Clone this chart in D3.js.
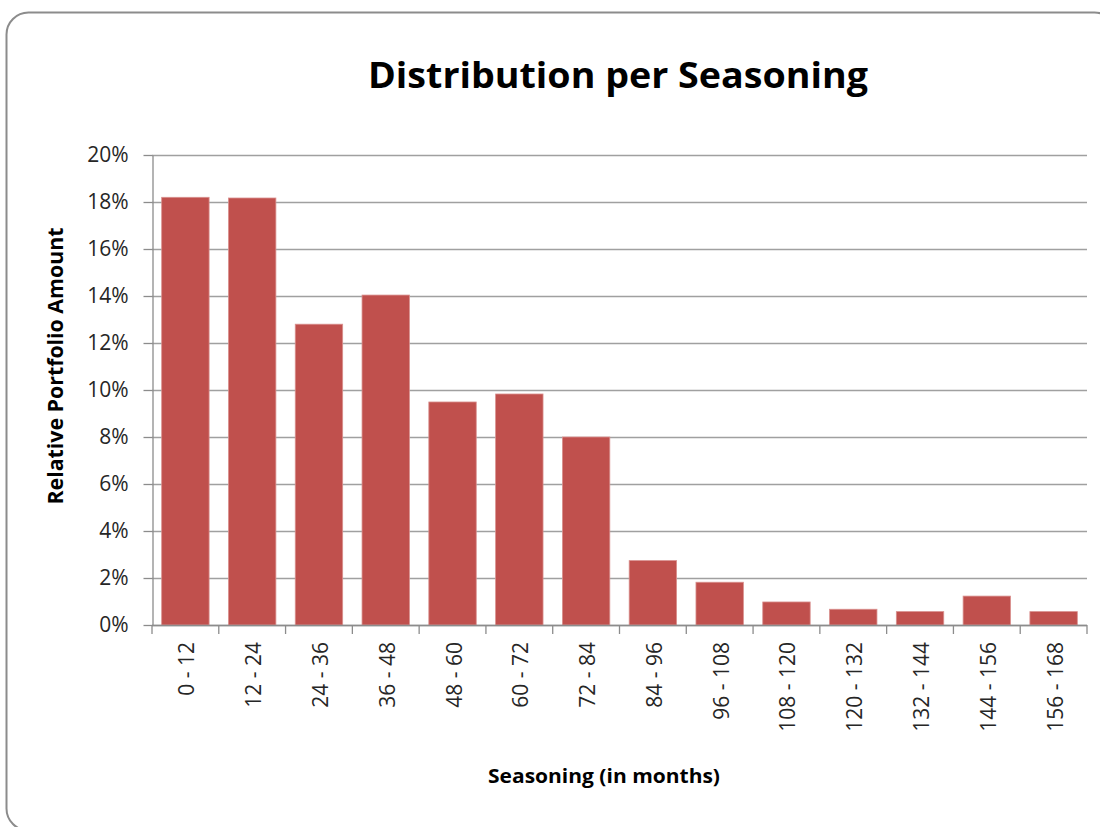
<!DOCTYPE html>
<html><head><meta charset="utf-8">
<script src="https://cdn.jsdelivr.net/npm/d3@7"></script>
<style>body{margin:0;background:#fff}svg{display:block}</style>
</head><body><svg id="c" width="1100" height="827"></svg>
<script>
const categories = ["0 - 12","12 - 24","24 - 36","36 - 48","48 - 60","60 - 72","72 - 84","84 - 96","96 - 108","108 - 120","120 - 132","132 - 144","144 - 156","156 - 168"];
const values = [0.182, 0.1817, 0.128, 0.1404, 0.0949, 0.0983, 0.080, 0.0274, 0.0182, 0.0098, 0.0067, 0.0057, 0.0123, 0.0057];
const yTicks = [0,0.02,0.04,0.06,0.08,0.10,0.12,0.14,0.16,0.18,0.20];
const title = "Distribution per Seasoning";
const yTitle = "Relative Portfolio Amount";
const xTitle = "Seasoning (in months)";

const svg = d3.select("#c");
const font = "Open Sans, Liberation Sans, sans-serif";
svg.append("rect").attr("x",6.5).attr("y",12.5).attr("width",1110).attr("height",818)
  .attr("rx",22).attr("fill","#fff").attr("stroke","#8c8c8c").attr("stroke-width",2);

const L=152,R=1087,T=155,B=625;
const x = d3.scaleBand().domain(categories).range([L,R]).paddingInner(0.29).paddingOuter(0.145);
const y = d3.scaleLinear().domain([0,0.20]).range([B,T]);

const g = svg.append("g");
g.selectAll("line.grid").data(yTicks).join("line").attr("class","grid")
  .attr("x1",L).attr("x2",R).attr("y1",d=>Math.round(y(d))+0.5).attr("y2",d=>Math.round(y(d))+0.5)
  .attr("stroke","#a0a0a0").attr("stroke-width",1.3);

g.selectAll("rect.bar").data(values).join("rect").attr("class","bar")
  .attr("x",(d,i)=>x(categories[i])).attr("width",x.bandwidth())
  .attr("y",d=>y(d)).attr("height",d=>B-y(d))
  .attr("fill","#c0504d").attr("stroke","#d9908e").attr("stroke-width",0.8);

const yAxis = g.append("g").attr("transform",`translate(${L+0.5},0)`)
  .call(d3.axisLeft(y).tickValues(yTicks).tickFormat(d3.format(".0%")).tickSize(9).tickSizeOuter(0));
yAxis.select(".domain").attr("stroke","#8c8c8c").attr("stroke-width",1.3);
yAxis.selectAll(".tick line").attr("stroke","#8c8c8c").attr("stroke-width",1.3);
yAxis.selectAll(".tick text").attr("font-family",font).attr("font-size",21).attr("fill","#262626").attr("x",-24);

const xTickPos = categories.map(c=>x(c)-x.step()*x.paddingInner()/2).concat([R]);
const xa = g.append("g");
xa.append("line").attr("x1",L).attr("x2",R).attr("y1",B+0.5).attr("y2",B+0.5).attr("stroke","#8c8c8c").attr("stroke-width",1.3);
xa.selectAll("line.t").data(xTickPos).join("line").attr("class","t")
  .attr("x1",d=>d).attr("x2",d=>d).attr("y1",B).attr("y2",B+9).attr("stroke","#8c8c8c").attr("stroke-width",1.3);
xa.selectAll("text").data(categories).join("text")
  .attr("transform",d=>`translate(${x(d)+x.bandwidth()/2+9},${B+17}) rotate(-90)`)
  .attr("text-anchor","end").attr("font-family",font).attr("font-size",21).attr("fill","#262626").text(d=>d);

svg.append("text").attr("x",618).attr("y",88).attr("text-anchor","middle")
  .attr("textLength",500).attr("lengthAdjust","spacingAndGlyphs")
  .attr("font-family",font).attr("font-weight","bold").attr("font-size",35).attr("fill","#000").text(title);
svg.append("text").attr("transform","translate(63,366) rotate(-90)").attr("text-anchor","middle")
  .attr("textLength",277).attr("lengthAdjust","spacingAndGlyphs")
  .attr("font-family",font).attr("font-weight","bold").attr("font-size",21).attr("fill","#000").text(yTitle);
svg.append("text").attr("x",604).attr("y",783).attr("text-anchor","middle")
  .attr("textLength",232).attr("lengthAdjust","spacingAndGlyphs")
  .attr("font-family",font).attr("font-weight","bold").attr("font-size",19).attr("fill","#000").text(xTitle);
</script></body></html>
